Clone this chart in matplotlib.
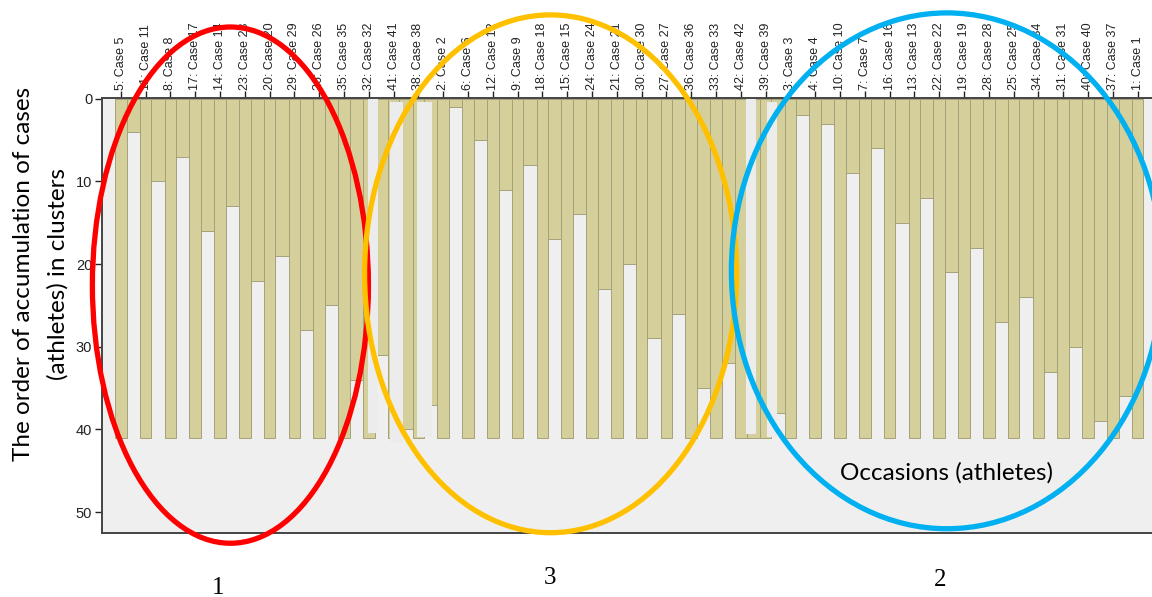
import matplotlib
matplotlib.use('Agg')
import matplotlib.pyplot as plt
from matplotlib.patches import Ellipse, Rectangle

# ---- data -------------------------------------------------------------
case_ids = [5, 11, 8, 17, 14, 23, 20, 29, 26, 35, 32, 41, 38, 2, 6, 12, 9, 18,
            15, 24, 21, 30, 27, 36, 33, 42, 39, 3, 4, 10, 7, 16, 13, 22, 19, 28,
            25, 34, 31, 40, 37, 1]
case_labels = [f"{c}: Case {c}" for c in case_ids]
n_clusters_rows = 41
# number of clusters down to which neighbouring cases stay joined
gap_values = [4, 10, 7, 16, 13, 22, 19, 28, 25, 34, 31, 40, 37, 1, 5, 11, 8, 17,
              14, 23, 20, 29, 26, 35, 32, 41, 38, 2, 3, 9, 6, 15, 12, 21, 18, 27,
              24, 33, 30, 39, 36]
y_ticks = [0, 10, 20, 30, 40, 50]

# white-out patches present in the source picture (data units)
erased_x0 = [9.98, 10.85, 11.93, 25.20, 26.04]
erased_x1 = [10.38, 11.39, 12.54, 25.60, 26.47]
erased_y0 = [0.0, 0.4, 0.4, 0.0, 0.4]
erased_y1 = [40.4, 41.7, 40.9, 40.5, 40.9]

# cluster group annotations (ellipses and numbers)
group_names = ['1', '3', '2']
group_colors = ['#ff0000', '#ffc000', '#00b0f0']
group_cx = [4.42, 17.33, 33.31]
group_cy = [22.55, 21.18, 20.82]
group_w = [11.13, 15.0, 17.38]
group_h = [62.45, 62.64, 62.4]
group_label_x = [3.92, 17.31, 33.03]
group_label_y = [59.2, 58.0, 58.25]

# ---- style ------------------------------------------------------------
tan = '#d4cf9b'
edge = '#a5a17a'
bg = '#efefef'
sans = ['Liberation Sans', 'DejaVu Sans']
calibri_like = ['Lato', 'DejaVu Sans']
serif = ['Liberation Serif', 'DejaVu Serif']

fig = plt.figure(figsize=(11.52, 5.97), dpi=100)
ax = fig.add_axes([101.7 / 1152, 64.3 / 597, 1 - 101.7 / 1152, 434.4 / 597])
ax.set_facecolor(bg)

case_pos = list(range(len(case_ids)))
gap_pos = [i + 0.5 for i in range(len(gap_values))]

ax.bar(gap_pos, gap_values, width=0.53, bottom=0, color=tan,
       edgecolor=edge, linewidth=0.7, zorder=2)
ax.bar(case_pos, [n_clusters_rows] * len(case_ids), width=0.47, bottom=0,
       color=tan, edgecolor=edge, linewidth=0.7, zorder=2.1)

for x0, x1, y0, y1 in zip(erased_x0, erased_x1, erased_y0, erased_y1):
    ax.add_patch(Rectangle((x0, y0), x1 - x0, y1 - y0, facecolor='#ececec',
                           edgecolor='none', zorder=2.2))

ax.set_xlim(-0.77, 41.58)
ax.set_ylim(52.5, -0.05)

ax.xaxis.tick_top()
ax.set_xticks(case_pos)
ax.set_xticklabels(case_labels, rotation=90, fontsize=9, family=sans,
                   color='#111111')
ax.tick_params(axis='x', direction='out', length=5, width=1.0, pad=1,
               colors='#222222')
ax.set_yticks(y_ticks)
ax.set_yticklabels([str(v) for v in y_ticks], fontsize=10.5, family=sans)
ax.tick_params(axis='y', direction='out', length=5.3, width=1.0, pad=1.5,
               colors='#222222')

for s in ['left', 'bottom', 'top']:
    ax.spines[s].set_color('#444444')
    ax.spines[s].set_linewidth(1.4)
ax.spines['right'].set_visible(False)

fig.text(41 / 1152, 1 - 274 / 597,
         'The order of accumulation of cases\n(athletes) in clusters',
         fontsize=17.5, family=calibri_like, linespacing=1.75,
         rotation=90, ha='center', va='center', multialignment='center')

ax.text(33.3, 45.3, 'Occasions (athletes)', fontsize=17.5,
        family=calibri_like, ha='center', va='center', zorder=6)

for name, col, cx, cy, w, h, lx, ly in zip(group_names, group_colors, group_cx,
                                           group_cy, group_w, group_h,
                                           group_label_x, group_label_y):
    ax.add_patch(Ellipse((cx, cy), w, h, facecolor='none', edgecolor=col,
                         linewidth=3.8, clip_on=False, zorder=10))
    ax.text(lx, ly, name, fontsize=18, family=serif, ha='center', va='center',
            clip_on=False)

fig.savefig('out.png', dpi=100)
